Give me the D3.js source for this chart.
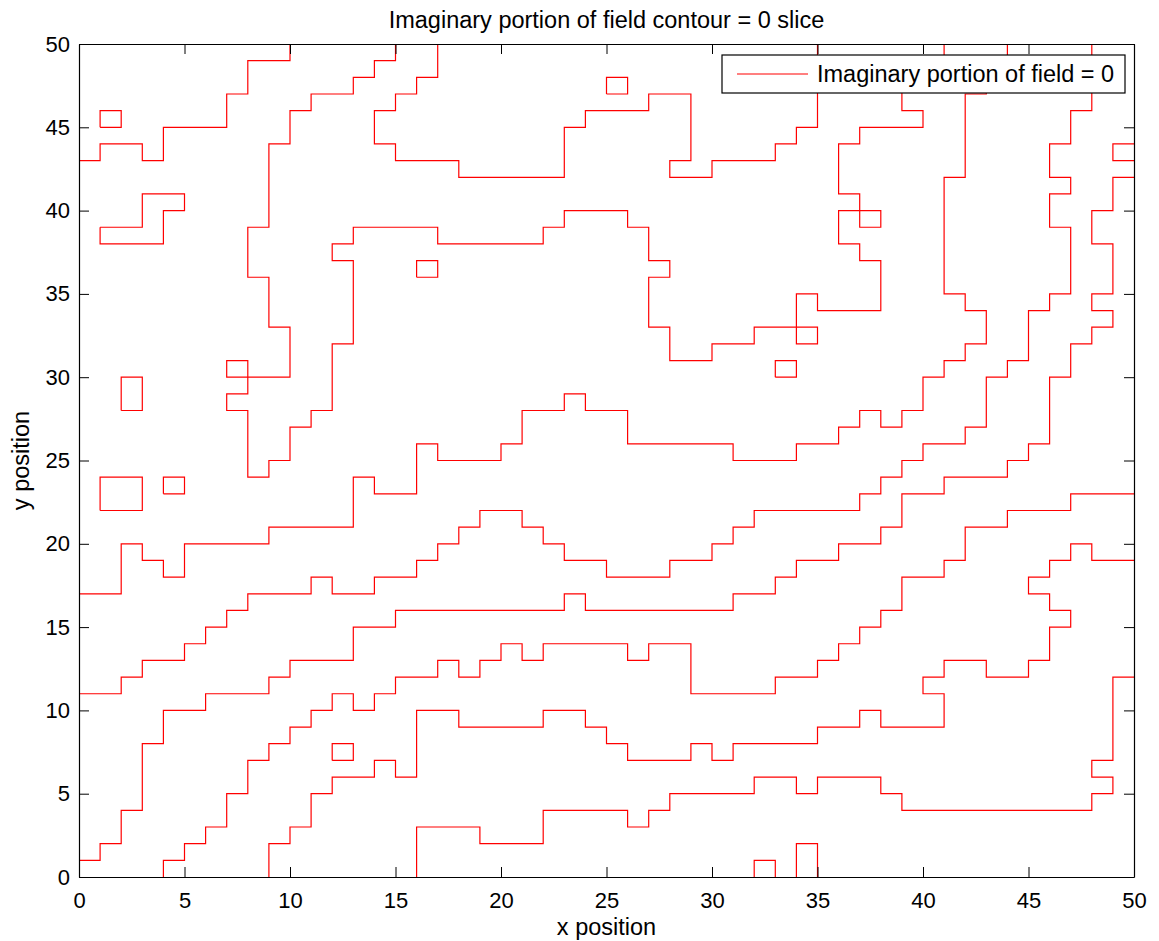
<!DOCTYPE html>
<html>
<head>
<meta charset="utf-8">
<script src="https://cdn.jsdelivr.net/npm/d3@7"></script>
<style>
  html, body { margin: 0; padding: 0; background: #fff; }
  svg { display: block; }
  text { font-family: "Liberation Sans", Arial, Helvetica, sans-serif; fill: #000; }
</style>
</head>
<body>
<svg id="chart" width="1159" height="941"></svg>
<script>
// ---------------- data ----------------
const titleText = "Imaginary portion of field contour = 0 slice";
const xLabelText = "x position";
const yLabelText = "y position";
const legendText = "Imaginary portion of field = 0";
const xTicks = [0, 5, 10, 15, 20, 25, 30, 35, 40, 45, 50];
const yTicks = [0, 5, 10, 15, 20, 25, 30, 35, 40, 45, 50];

// contour polylines (grid points of the zero level)
const contourTopLeft = [[10,50],[10,49],[8,49],[8,47],[7,47],[7,45],[4,45],[4,43],[3,43],[3,44],[1,44],[1,43],[0,43]];
const boxA = [[1,45],[2,45],[2,46],[1,46],[1,45]];
const loopB = [[1,39],[3,39],[3,41],[5,41],[5,40],[4,40],[4,38],[1,38],[1,39]];
const boxC = [[2,28],[3,28],[3,30],[2,30],[2,28]];
const boxD = [[1,22],[3,22],[3,24],[1,24],[1,22]];
const boxE = [[4,23],[5,23],[5,24],[4,24],[4,23]];
const boxF = [[16,36],[17,36],[17,37],[16,37],[16,36]];
const boxG = [[25,47],[26,47],[26,48],[25,48],[25,47]];
const boxH = [[33,30],[34,30],[34,31],[33,31],[33,30]];
const boxI = [[12,7],[13,7],[13,8],[12,8],[12,7]];
const boxJ = [[32,0],[32,1],[33,1],[33,0]];
const boxK = [[34,0],[34,2],[35,2],[35,0]];
const boxL = [[50,44],[49,44],[49,43],[50,43]];

const contourBig = [[15,50],[15,49],[14,49],[14,48],[13,48],[13,47],[11,47],[11,46],[10,46],[10,44],[9,44],[9,39],[8,39],[8,36],[9,36],[9,33],[10,33],[10,30],[7,30],[7,31],[8,31],[8,29],[7,29],[7,28],[8,28],[8,24],[9,24],[9,25],[10,25],[10,27],[11,27],[11,28],[12,28],[12,32],[13,32],[13,37],[12,37],[12,38],[13,38],[13,39],[17,39],[17,38],[22,38],[22,39],[23,39],[23,40],[26,40],[26,39],[27,39],[27,37],[28,37],[28,36],[27,36],[27,33],[28,33],[28,31],[30,31],[30,32],[32,32],[32,33],[35,33],[35,32],[34,32],[34,35],[35,35],[35,34],[38,34],[38,37],[37,37],[37,38],[36,38],[36,40],[38,40],[38,39],[37,39],[37,41],[36,41],[36,44],[37,44],[37,45],[40,45],[40,46],[39,46],[39,47],[39,48],[40,48],[40,49],[41,49],[41,50]];

const contourUpper = [[17,50],[17,48],[16,48],[16,47],[15,47],[15,46],[14,46],[14,44],[15,44],[15,43],[18,43],[18,42],[23,42],[23,45],[24,45],[24,46],[27,46],[27,47],[29,47],[29,43],[28,43],[28,42],[30,42],[30,43],[33,43],[33,44],[34,44],[34,45],[35,45],[35,50]];

const contourMid = [[0,17],[2,17],[2,20],[3,20],[3,19],[4,19],[4,18],[5,18],[5,20],[9,20],[9,21],[13,21],[13,24],[14,24],[14,23],[16,23],[16,26],[17,26],[17,25],[20,25],[20,26],[21,26],[21,28],[23,28],[23,29],[24,29],[24,28],[26,28],[26,26],[31,26],[31,25],[34,25],[34,26],[36,26],[36,27],[37,27],[37,28],[38,28],[38,27],[39,27],[39,28],[40,28],[40,30],[41,30],[41,31],[42,31],[42,32],[43,32],[43,34],[42,34],[42,35],[41,35],[41,42],[42,42],[42,47],[43,47],[43,48],[44,48],[44,50]];

const contourB = [[0,11],[2,11],[2,12],[3,12],[3,13],[5,13],[5,14],[6,14],[6,15],[7,15],[7,16],[8,16],[8,17],[11,17],[11,18],[12,18],[12,17],[14,17],[14,18],[16,18],[16,19],[17,19],[17,20],[18,20],[18,21],[19,21],[19,22],[21,22],[21,21],[22,21],[22,20],[23,20],[23,19],[25,19],[25,18],[28,18],[28,19],[30,19],[30,20],[31,20],[31,21],[32,21],[32,22],[37,22],[37,23],[38,23],[38,24],[39,24],[39,25],[40,25],[40,26],[42,26],[42,27],[43,27],[43,30],[44,30],[44,31],[45,31],[45,34],[46,34],[46,35],[47,35],[47,39],[46,39],[46,41],[47,41],[47,42],[46,42],[46,44],[47,44],[47,46],[48,46],[48,50]];

const contourA = [[0,1],[1,1],[1,2],[2,2],[2,4],[3,4],[3,8],[4,8],[4,10],[6,10],[6,11],[9,11],[9,12],[10,12],[10,13],[13,13],[13,15],[15,15],[15,16],[23,16],[23,17],[24,17],[24,16],[31,16],[31,17],[33,17],[33,18],[34,18],[34,19],[36,19],[36,20],[38,20],[38,21],[39,21],[39,23],[41,23],[41,24],[44,24],[44,25],[45,25],[45,26],[46,26],[46,30],[47,30],[47,32],[48,32],[48,33],[49,33],[49,34],[48,34],[48,35],[49,35],[49,38],[48,38],[48,40],[49,40],[49,42],[50,42]];

const contourC = [[4,0],[4,1],[5,1],[5,2],[6,2],[6,3],[7,3],[7,5],[8,5],[8,7],[9,7],[9,8],[10,8],[10,9],[11,9],[11,10],[12,10],[12,11],[13,11],[13,10],[14,10],[14,11],[15,11],[15,12],[17,12],[17,13],[18,13],[18,12],[19,12],[19,13],[20,13],[20,14],[21,14],[21,13],[22,13],[22,14],[26,14],[26,13],[27,13],[27,14],[29,14],[29,11],[33,11],[33,12],[35,12],[35,13],[36,13],[36,14],[37,14],[37,15],[38,15],[38,16],[39,16],[39,18],[41,18],[41,19],[42,19],[42,21],[44,21],[44,22],[47,22],[47,23],[50,23]];

const contourD = [[9,0],[9,2],[10,2],[10,3],[11,3],[11,5],[12,5],[12,6],[14,6],[14,7],[15,7],[15,6],[16,6],[16,10],[18,10],[18,9],[22,9],[22,10],[24,10],[24,9],[25,9],[25,8],[26,8],[26,7],[29,7],[29,8],[30,8],[30,7],[31,7],[31,8],[35,8],[35,9],[37,9],[37,10],[38,10],[38,9],[41,9],[41,11],[40,11],[40,12],[41,12],[41,13],[43,13],[43,12],[45,12],[45,13],[46,13],[46,15],[47,15],[47,16],[46,16],[46,17],[45,17],[45,18],[46,18],[46,19],[47,19],[47,20],[48,20],[48,19],[50,19]];

const contourE = [[16,0],[16,3],[19,3],[19,2],[22,2],[22,4],[26,4],[26,3],[27,3],[27,4],[28,4],[28,5],[32,5],[32,6],[34,6],[34,5],[35,5],[35,6],[38,6],[38,5],[39,5],[39,4],[48,4],[48,5],[49,5],[49,6],[48,6],[48,7],[49,7],[49,12],[50,12]];

const contours = [contourTopLeft, boxA, loopB, boxC, boxD, boxE, boxF, boxG, boxH, boxI, boxJ, boxK, boxL,
  contourBig, contourUpper, contourMid, contourB, contourA, contourC, contourD, contourE];

// ---------------- layout ----------------
const svg = d3.select("#chart");
const L = 79, R = 1134, T = 44, B = 877;
const x = d3.scaleLinear().domain([0, 50]).range([L, R]);
const y = d3.scaleLinear().domain([0, 50]).range([B, T]);
const FS = 22;      // tick labels
const FS2 = 23.5;   // title, axis labels, legend

svg.append("rect").attr("x", 0).attr("y", 0).attr("width", 1159).attr("height", 941).attr("fill", "#fff");
svg.append("rect").attr("x", L).attr("y", T).attr("width", R - L).attr("height", B - T).attr("fill", "#fff");

// contours
const clipId = "plotclip";
svg.append("clipPath").attr("id", clipId).append("rect")
  .attr("x", L).attr("y", T).attr("width", R - L).attr("height", B - T);
const line = d3.line().x(d => x(d[0])).y(d => y(d[1]));
svg.append("g").attr("clip-path", `url(#${clipId})`)
  .selectAll("path").data(contours).join("path")
  .attr("d", line).attr("fill", "none").attr("stroke", "#ff0000")
  .attr("stroke-width", 1.2).attr("stroke-linejoin", "miter");

// axes
function styleAxis(g) {
  g.selectAll(".domain").attr("stroke", "#000").attr("stroke-width", 1.2);
  g.selectAll(".tick line").attr("stroke", "#000").attr("stroke-width", 1);
  g.selectAll(".tick text").attr("font-size", FS).attr("font-family", "Liberation Sans, Arial, sans-serif").attr("fill", "#000");
}
svg.append("g").attr("transform", `translate(0,${B})`)
  .call(d3.axisBottom(x).tickValues(xTicks).tickSizeInner(-10).tickSizeOuter(0).tickPadding(15).tickFormat(d3.format("d")))
  .call(styleAxis);
svg.append("g").attr("transform", `translate(0,${T})`)
  .call(d3.axisTop(x).tickValues(xTicks).tickSizeInner(-10).tickSizeOuter(0).tickFormat(""))
  .call(styleAxis);
svg.append("g").attr("transform", `translate(${L},0)`)
  .call(d3.axisLeft(y).tickValues(yTicks).tickSizeInner(-10).tickSizeOuter(0).tickPadding(9).tickFormat(d3.format("d")))
  .call(styleAxis);
svg.append("g").attr("transform", `translate(${R},0)`)
  .call(d3.axisRight(y).tickValues(yTicks).tickSizeInner(-10).tickSizeOuter(0).tickFormat(""))
  .call(styleAxis);
svg.selectAll(".domain").attr("fill", "none");

// labels
svg.append("text").attr("x", (L + R) / 2).attr("y", 28).attr("text-anchor", "middle")
  .attr("font-size", FS2).text(titleText);
svg.append("text").attr("x", (L + R) / 2).attr("y", 935).attr("text-anchor", "middle")
  .attr("font-size", FS2).text(xLabelText);
svg.append("text").attr("transform", `translate(29,${(T + B) / 2}) rotate(-90)`).attr("text-anchor", "middle")
  .attr("font-size", FS2).text(yLabelText);

// legend
const lg = svg.append("g");
lg.append("rect").attr("x", 722).attr("y", 55).attr("width", 403).attr("height", 38)
  .attr("fill", "#fff").attr("stroke", "#000").attr("stroke-width", 1.2);
lg.append("line").attr("x1", 737).attr("x2", 808).attr("y1", 74).attr("y2", 74)
  .attr("stroke", "#ff0000").attr("stroke-width", 1.2);
lg.append("text").attr("x", 817).attr("y", 74).attr("dy", "0.35em").attr("font-size", FS2).text(legendText);
</script>
</body>
</html>
